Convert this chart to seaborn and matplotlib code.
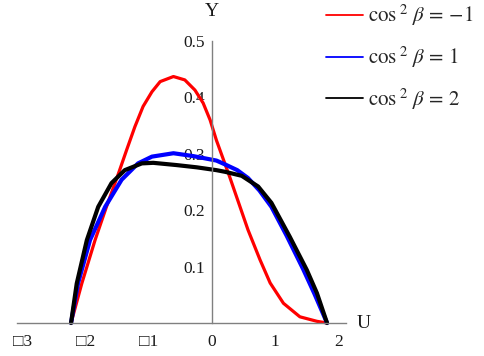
import numpy as np
import pandas as pd
import matplotlib
matplotlib.use("Agg")
import matplotlib.pyplot as plt
from matplotlib.lines import Line2D
from matplotlib.ticker import MultipleLocator, FixedLocator
import seaborn as sns

# cos^2 beta = -1
u_red = [-2.23, -2.06, -1.85, -1.67, -1.48, -1.35, -1.22, -1.09, -0.95, -0.82,
         -0.61, -0.43, -0.27, -0.14, -0.03, 0.07, 0.28, 0.57, 0.76, 0.92,
         1.13, 1.39, 1.66, 1.82]
y_red = [0.000, 0.070, 0.147, 0.206, 0.265, 0.307, 0.348, 0.384, 0.410, 0.428,
         0.437, 0.431, 0.413, 0.390, 0.360, 0.324, 0.259, 0.165, 0.112, 0.071,
         0.035, 0.011, 0.003, 0.000]

# cos^2 beta = 1
u_blue = [-2.23, -2.12, -1.93, -1.69, -1.43, -1.17, -0.95, -0.61, -0.30, 0.07,
          0.21, 0.40, 0.57, 0.75, 0.94, 1.18, 1.44, 1.62, 1.82]
y_blue = [0.000, 0.070, 0.147, 0.206, 0.254, 0.283, 0.295, 0.301, 0.296, 0.288,
          0.281, 0.271, 0.257, 0.235, 0.206, 0.155, 0.096, 0.052, 0.000]

# cos^2 beta = 2
u_black = [-2.23, -2.14, -1.98, -1.80, -1.59, -1.38, -1.11, -0.93, -0.56, -0.24,
           0.07, 0.21, 0.47, 0.73, 0.94, 1.23, 1.50, 1.66, 1.82]
y_black = [0.000, 0.070, 0.147, 0.206, 0.248, 0.271, 0.283, 0.284, 0.280, 0.276,
           0.271, 0.268, 0.261, 0.242, 0.213, 0.153, 0.094, 0.053, 0.000]

legend_labels = [r"$\mathrm{cos}^{\,\,2}\ \beta\, =\, {-1}$",
                 r"$\mathrm{cos}^{\,\,2}\ \beta\, =\, 1$",
                 r"$\mathrm{cos}^{\,\,2}\ \beta\, =\, 2$"]
colors = ["#ff0000", "#0000ff", "#000000"]
widths = [2.3, 3.0, 3.0]

x_ticks = [-3, -2, -1, 0, 1, 2]
x_tick_labels = ["\u25a13", "\u25a12", "\u25a11", "0", "1", "2"]
y_ticks = [0.1, 0.2, 0.3, 0.4, 0.5]
y_tick_labels = ["0.1", "0.2", "0.3", "0.4", "0.5"]

sns.set_style("white")
plt.rcParams["font.family"] = ["Liberation Serif", "DejaVu Sans"]
plt.rcParams["mathtext.fontset"] = "stix"

fig = plt.figure(figsize=(4.84, 3.56), dpi=100)
ax = fig.add_axes([17 / 484, 33 / 356, 329 / 484, 282 / 356])

series = [(u_red, y_red), (u_blue, y_blue), (u_black, y_black)]
for (u, y), c, lw in zip(series, colors, widths):
    df = pd.DataFrame({"U": u, "Y": y})
    sns.lineplot(data=df, x="U", y="Y", sort=False, color=c, linewidth=lw,
                 ax=ax, legend=False, clip_on=False,
                 solid_joinstyle="round", solid_capstyle="round")

ax.set_xlim(-3.085, 2.12)
ax.set_ylim(0, 0.5)
ax.set_xlabel("")
ax.set_ylabel("")

axis_gray = "#808080"
for side in ["top", "right"]:
    ax.spines[side].set_visible(False)
ax.spines["left"].set_position(("data", 0))
for side in ["left", "bottom"]:
    ax.spines[side].set_color(axis_gray)
    ax.spines[side].set_linewidth(1.0)

ax.xaxis.set_major_locator(FixedLocator(x_ticks))
ax.set_xticklabels(x_tick_labels)
ax.xaxis.set_minor_locator(MultipleLocator(0.2))
ax.yaxis.set_major_locator(FixedLocator(y_ticks))
ax.set_yticklabels(y_tick_labels)
ax.yaxis.set_minor_locator(MultipleLocator(0.02))

ax.tick_params(axis="both", which="major", direction="in", length=4,
               width=0.8, color=axis_gray, labelsize=12.5, labelcolor="#1a1a1a")
ax.tick_params(axis="both", which="minor", direction="in", length=2.2,
               width=0.7, color=axis_gray)
ax.tick_params(axis="x", which="major", pad=8)
ax.tick_params(axis="y", which="major", pad=5)

ax.text(0, 0.552, "Y", ha="center", va="center", fontsize=14, color="#1a1a1a")
ax.text(2.405, 0, "U", ha="center", va="center", fontsize=14, color="#1a1a1a")

handles = [Line2D([], [], color=c, linewidth=1.3) for c in colors]
fig.legend(handles, legend_labels, loc="upper left",
           bbox_to_anchor=(326 / 484, 1 - 3 / 356), frameon=False,
           fontsize=15, handlelength=1.78, handletextpad=0.24, labelspacing=0.78,
           borderaxespad=0, borderpad=0)

fig.savefig("out.png", dpi=100)
